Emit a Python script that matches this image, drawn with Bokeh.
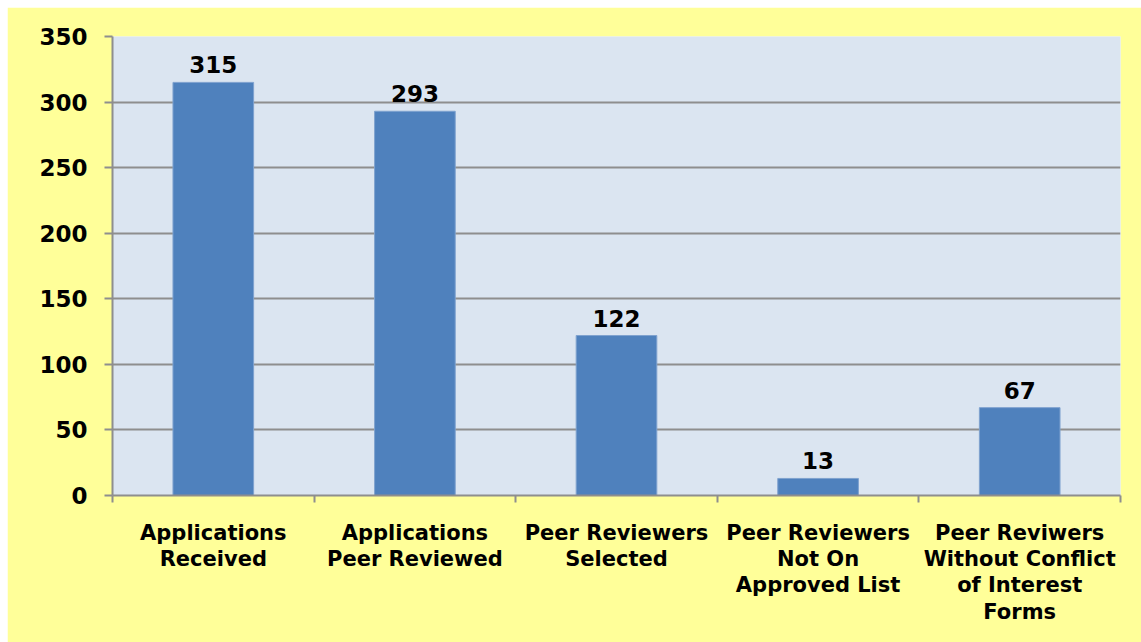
from bokeh.plotting import figure
from bokeh.models import ColumnDataSource, Range1d, FixedTicker, LabelSet, Spacer
from bokeh.layouts import column, row
from bokeh.core.properties import value
from bokeh.embed import file_html
from bokeh.resources import INLINE

categories = [
    "Applications\nReceived",
    "Applications\nPeer Reviewed",
    "Peer Reviewers\nSelected",
    "Peer Reviewers\nNot On\nApproved List",
    "Peer Reviwers\nWithout Conflict\nof Interest\nForms",
]
values = [315, 293, 122, 13, 67]
y_ticks = [0, 50, 100, 150, 200, 250, 300, 350]

FONT = "DejaVu Sans"
BAR = "#4F81BD"
GRID = "#8E8E8E"

xs = [i + 0.5 for i in range(len(categories))]
src = ColumnDataSource(dict(x=xs, top=values, label=[str(v) for v in values]))

p = figure(width=1134, height=635, output_backend="svg", toolbar_location=None,
           x_range=Range1d(0, len(categories)), y_range=Range1d(0, 350),
           min_border_left=105, min_border_right=21, min_border_top=29,
           min_border_bottom=147)
p.background_fill_color = "#DBE5F1"
p.border_fill_color = "#FFFF99"
p.outline_line_color = None

p.vbar(x="x", top="top", bottom=0, width=0.4, source=src,
       fill_color=BAR, line_color="#7FA2CF", line_width=1)

labels = LabelSet(x="x", y="top", text="label", source=src, text_align="center",
                  text_baseline="bottom", y_offset=9, text_font=value(FONT),
                  text_font_style="bold", text_font_size="23px", text_color="#000000")
p.add_layout(labels)

# x axis
p.xaxis.ticker = FixedTicker(ticks=xs, minor_ticks=list(range(len(categories) + 1)))
p.xaxis.major_label_overrides = {x: c for x, c in zip(xs, categories)}
p.xaxis.major_tick_line_color = None
p.xaxis.major_tick_out = 0
p.xaxis.major_tick_in = 0
p.xaxis.minor_tick_line_color = GRID
p.xaxis.minor_tick_line_width = 2
p.xaxis.minor_tick_out = 7
p.xaxis.minor_tick_in = 0
p.xaxis.axis_line_color = GRID
p.xaxis.axis_line_width = 2
p.xaxis.major_label_standoff = 18
p.xaxis.major_label_text_font = FONT
p.xaxis.major_label_text_font_style = "bold"
p.xaxis.major_label_text_font_size = "21px"
p.xaxis.major_label_text_line_height = 1.1
p.xaxis.major_label_text_color = "#000000"
p.xaxis.major_label_text_align = "center"

# y axis
p.yaxis.ticker = FixedTicker(ticks=y_ticks)
p.yaxis.minor_tick_line_color = None
p.yaxis.major_tick_line_color = GRID
p.yaxis.major_tick_line_width = 2
p.yaxis.major_tick_out = 8
p.yaxis.major_tick_in = 0
p.yaxis.axis_line_color = GRID
p.yaxis.axis_line_width = 2
p.yaxis.major_label_standoff = 17
p.yaxis.major_label_text_font = FONT
p.yaxis.major_label_text_font_style = "bold"
p.yaxis.major_label_text_font_size = "23px"
p.yaxis.major_label_text_color = "#000000"

p.xgrid.grid_line_color = None
p.ygrid.grid_line_color = GRID
p.ygrid.grid_line_width = 2

layout = column(Spacer(width=1141, height=7),
                row(Spacer(width=7, height=635), p))

open("out.html", "w").write(file_html(layout, INLINE))
